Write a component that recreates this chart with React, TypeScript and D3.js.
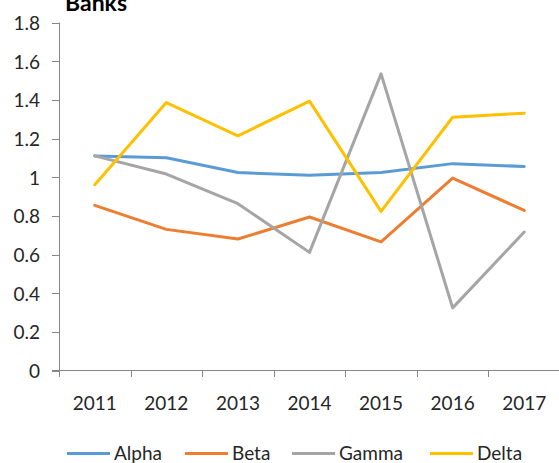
import React from "react";
import * as d3 from "d3";

const categories = ["2011", "2012", "2013", "2014", "2015", "2016", "2017"];
const seriesNames = ["Alpha", "Beta", "Gamma", "Delta"];
const alpha = [1.11, 1.1, 1.024, 1.01, 1.024, 1.07, 1.055];
const beta = [0.854, 0.73, 0.68, 0.794, 0.665, 0.995, 0.828];
const gamma = [1.11, 1.016, 0.863, 0.611, 1.534, 0.324, 0.716];
const delta = [0.961, 1.386, 1.214, 1.393, 0.823, 1.31, 1.331];
const yTicks = [0, 0.2, 0.4, 0.6, 0.8, 1, 1.2, 1.4, 1.6, 1.8];
const colors = ["#5B9BD5", "#ED7D31", "#A5A5A5", "#FFC000"];

const W = 559;
const H = 463;
const FONT = "Lato, 'Open Sans', sans-serif";

export default function App() {
  const x = d3.scaleBand<string>().domain(categories).range([59, 560]);
  const y = d3.scaleLinear().domain([0, 1.8]).range([370.5, 22.5]);
  const cx = (c: string) => (x(c) as number) + x.bandwidth() / 2;
  const data = [alpha, beta, gamma, delta];
  const line = d3
    .line<number>()
    .x((_, i) => cx(categories[i]))
    .y((d) => y(d));
  const boundaries = categories.map((c) => x(c) as number).concat([560]);
  const legendX = [67, 185, 292, 430];
  const axisColor = "#868686";

  return (
    <svg
      width={W}
      height={H}
      style={{ position: "absolute", left: 0, top: 0, background: "#fff" }}
    >
      <text
        x={65}
        y={11}
        fontFamily={FONT}
        fontWeight={700}
        fontSize={23}
        fill="#000"
      >
        Banks
      </text>
      {/* y axis */}
      <line x1={59.5} x2={59.5} y1={y(1.8)} y2={377} stroke={axisColor} strokeWidth={1} />
      {yTicks.map((t) => (
        <g key={t}>
          <line x1={52} x2={59.5} y1={Math.round(y(t)) + 0.5} y2={Math.round(y(t)) + 0.5} stroke={axisColor} />
          <text
            x={40}
            y={y(t)}
            textAnchor="end"
            dominantBaseline="central"
            fontFamily={FONT}
            fontSize={19}
            fill="#262626"
          >
            {d3.format("~g")(t)}
          </text>
        </g>
      ))}
      {/* x axis */}
      <line x1={52} x2={560} y1={370.5} y2={370.5} stroke={axisColor} />
      {boundaries.map((b, i) => (
        <line key={i} x1={Math.round(b) + 0.5} x2={Math.round(b) + 0.5} y1={370.5} y2={377} stroke={axisColor} />
      ))}
      {categories.map((c) => (
        <text
          key={c}
          x={cx(c)}
          y={410}
          textAnchor="middle"
          fontFamily={FONT}
          fontSize={19}
          fill="#262626"
        >
          {c}
        </text>
      ))}
      {/* series */}
      {data.map((s, i) => (
        <path
          key={seriesNames[i]}
          d={line(s) || ""}
          fill="none"
          stroke={colors[i]}
          strokeWidth={3}
          strokeLinejoin="round"
          strokeLinecap="round"
        />
      ))}
      {/* legend */}
      {seriesNames.map((n, i) => (
        <g key={n}>
          <line
            x1={legendX[i]}
            x2={legendX[i] + 43}
            y1={453.5}
            y2={453.5}
            stroke={colors[i]}
            strokeWidth={3}
          />
          <text
            x={legendX[i] + 47}
            y={460}
            fontFamily={FONT}
            fontSize={19}
            fill="#262626"
          >
            {n}
          </text>
        </g>
      ))}
    </svg>
  );
}
